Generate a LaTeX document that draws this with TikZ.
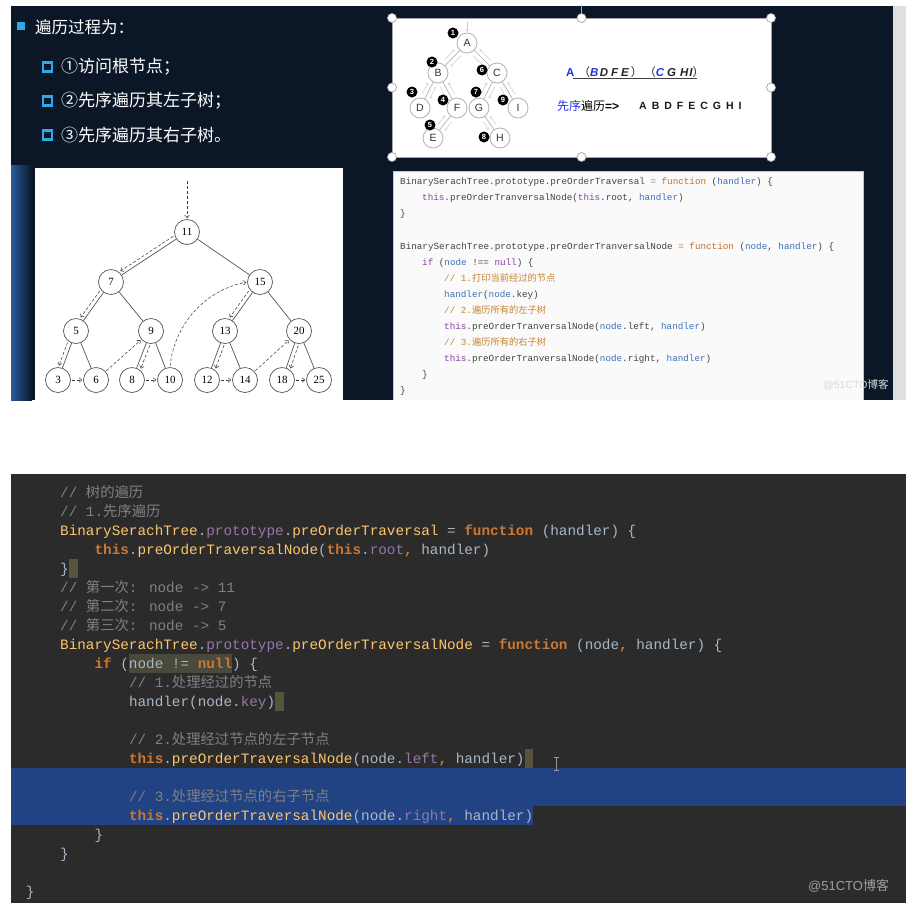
\documentclass[tikz,border=0pt]{standalone}
\usepackage{fontspec}
\setmainfont{Liberation Sans}
\newfontfamily\cjk{Noto Sans CJK SC}
\newfontfamily\monof{Liberation Mono}
\newfontfamily\serf{Liberation Serif}
\usetikzlibrary{arrows.meta,calc}
\pgfdeclarelayer{bg}
\pgfsetlayers{bg,main}
\definecolor{navy}{HTML}{0B1626}
\definecolor{glow}{HTML}{2F6DBF}
\definecolor{cyanb}{HTML}{2FA8E8}
\definecolor{darkbg}{HTML}{2B2B2B}
\definecolor{dDef}{HTML}{A9B7C6}
\definecolor{dKw}{HTML}{CC7832}
\definecolor{dFn}{HTML}{FFC66D}
\definecolor{dPu}{HTML}{9876AA}
\definecolor{dCom}{HTML}{808080}
\definecolor{dSel}{HTML}{214283}
\definecolor{dHl}{HTML}{4A4A3C}
\definecolor{dBr}{HTML}{56543A}
\definecolor{lDef}{HTML}{444444}
\definecolor{lKw}{HTML}{8A3FA0}
\definecolor{lOr}{HTML}{C0712B}
\definecolor{lBl}{HTML}{3D72B8}
\definecolor{lCom}{HTML}{C8842E}
\definecolor{tblue}{HTML}{2233DD}
\definecolor{edgec}{HTML}{555555}
\newcommand\DKw[1]{\textcolor{dKw}{\bfseries #1}}
\newcommand\DFn[1]{\textcolor{dFn}{#1}}
\newcommand\DPu[1]{\textcolor{dPu}{#1}}
\newcommand\LKw[1]{\textcolor{lKw}{#1}}
\newcommand\LOr[1]{\textcolor{lOr}{#1}}
\newcommand\LBl[1]{\textcolor{lBl}{#1}}
\newcommand\LCm[1]{\textcolor{lCom}{#1}}
\newcommand\smallEdge[4]{%
  \draw[sedge] (#1) -- (#2);
  \draw[sarr,transform canvas={shift={(#3,#4)}}] (#1) -- (#2);
  \draw[sarr,transform canvas={shift={({-(#3)},{-(#4)})}}] (#2) -- (#1);}
\begin{document}
\begin{tikzpicture}[x=1pt,y=-1pt,
  tn/.style={circle,draw=edgec,fill=white,minimum size=25pt,inner sep=0pt,line width=0.7pt,font=\serf\fontsize{11}{12}\selectfont},
  tedge/.style={draw=edgec,line width=0.7pt},
  darr/.style={densely dashed,draw=black!75,line width=0.55pt,-{Straight Barb[length=2.6pt,width=4.6pt]},shorten <=1pt,shorten >=1pt},
  sn/.style={circle,draw=gray!60,fill=white,minimum size=20pt,inner sep=0pt,line width=0.8pt,text=black!80,font=\fontsize{10.5}{12}\selectfont},
  mk/.style={circle,fill=black,text=white,minimum size=11pt,inner sep=0pt,font=\bfseries\fontsize{7.5}{8}\selectfont},
  sedge/.style={draw=gray!60,line width=0.7pt},
  sarr/.style={draw=gray!40,line width=0.5pt,-{Straight Barb[length=1.8pt,width=3.2pt]},shorten <=3pt,shorten >=3pt},
  hnd/.style={circle,draw=gray!70,fill=white,minimum size=9pt,inner sep=0pt,line width=0.7pt},
  tcode/.style={anchor=base west,inner sep=0pt,text=lDef,font=\monof\fontsize{9.27}{11}\selectfont},
  dcode/.style={anchor=base west,inner sep=0pt,text=dDef,font=\monof\fontsize{14.33}{17}\selectfont},
  ctext/.style={anchor=west,inner sep=0pt,text=white,font=\cjk\fontsize{16.5}{18}\selectfont},
  sq/.style={draw=cyanb,line width=2.2pt},
]
\useasboundingbox (0,0) rectangle (919,914);
\begin{pgfonlayer}{bg}
\fill[white] (0,0) rectangle (919,914);
\fill[darkbg] (11,474) rectangle (906,903);
\end{pgfonlayer}

% ---------- top panel ----------
\fill[navy] (11,6) rectangle (893,400);
\fill[gray!25] (893,6) rectangle (906,400);
\shade[left color=glow!80!navy, right color=navy] (11,165) rectangle (32,400);

\fill[cyanb] (17,22) rectangle (25,30);
\node[ctext] (title) at (35,27) {遍历过程为：};
\draw[sq] (43,62.5) rectangle (52,71.5);
\draw[sq] (43,96.5) rectangle (52,105.5);
\draw[sq] (43,130.5) rectangle (52,139.5);
\node[ctext,font=\cjk\fontsize{17}{19}\selectfont] (st1) at (61,67) {①访问根节点；};
\node[ctext,font=\cjk\fontsize{17}{19}\selectfont] (st2) at (61,101) {②先序遍历其左子树；};
\node[ctext,font=\cjk\fontsize{17}{19}\selectfont] (st3) at (61,135) {③先序遍历其右子树。};

% ---------- left tree figure ----------
\fill[white] (35,168) rectangle (343,400);
\begin{scope}
\clip (35,168) rectangle (343,400);
\draw[gray!70,double=white,double distance=1.2pt,line width=0.5pt] (39,172) rectangle (339,420);
\end{scope}
\node[tn] (n11) at (187,232) {11};
\node[tn] (n7) at (111,282) {7};
\node[tn] (n15) at (260,282) {15};
\node[tn] (n5) at (76,331) {5};
\node[tn] (n9) at (151,331) {9};
\node[tn] (n13) at (225,331) {13};
\node[tn] (n20) at (299,331) {20};
\node[tn] (n3) at (58,380) {3};
\node[tn] (n6) at (96,380) {6};
\node[tn] (n8) at (132,380) {8};
\node[tn] (n10) at (170,380) {10};
\node[tn] (n12) at (207,380) {12};
\node[tn] (n14) at (245,380) {14};
\node[tn] (n18) at (282,380) {18};
\node[tn] (n25) at (319,380) {25};
\foreach \a/\b in {n11/n7,n11/n15,n7/n5,n7/n9,n15/n13,n15/n20,n5/n3,n5/n6,n9/n8,n9/n10,n13/n12,n13/n14,n20/n18,n20/n25}
  \draw[tedge] (\a) -- (\b);
\coordinate (tin) at (187,180);
\draw[darr] (tin) -- (n11);
\draw[darr,transform canvas={shift={(-2.2,-3.3)}}] (n11) -- (n7);
\draw[darr,transform canvas={shift={(-3.3,-2.3)}}] (n7) -- (n5);
\draw[darr,transform canvas={shift={(-3.8,-1.4)}}] (n5) -- (n3);
\draw[darr] (n3) -- (n6);
\draw[darr] (n6) -- (n9);
\draw[darr,transform canvas={shift={(3.8,1.5)}}] (n9) -- (n8);
\draw[darr] (n8) -- (n10);
\draw[darr] (n10.north) .. controls (174,325) and (205,290) .. (n15.west);
\draw[darr,transform canvas={shift={(-3.3,-2.3)}}] (n15) -- (n13);
\draw[darr,transform canvas={shift={(3.8,1.4)}}] (n13) -- (n12);
\draw[darr] (n12) -- (n14);
\draw[darr] (n14) -- (n20);
\draw[darr,transform canvas={shift={(3.8,1.4)}}] (n20) -- (n18);
\draw[darr] (n18) -- (n25);

% ---------- top right picture box ----------
\fill[white] (392,18) rectangle (771,157);
\draw[gray!70,line width=0.8pt] (392,18) rectangle (771,157);
\coordinate (rot) at (581.5,5);
\node[hnd] (h1) at (392,18) {};
\node[hnd] (h2) at (581.5,18) {};
\node[hnd] (h3) at (771,18) {};
\node[hnd] (h4) at (392,87.5) {};
\node[hnd] (h5) at (771,87.5) {};
\node[hnd] (h6) at (392,157) {};
\node[hnd] (h7) at (581.5,157) {};
\node[hnd] (h8) at (771,157) {};
\draw[gray!70,line width=0.7pt] (h2) -- (rot);

\node[sn] (sA) at (467,43) {A};
\node[sn] (sB) at (438,73) {B};
\node[sn] (sC) at (497,73) {C};
\node[sn] (sD) at (420,108) {D};
\node[sn] (sF) at (457,108) {F};
\node[sn] (sG) at (479,108) {G};
\node[sn] (sI) at (518,108) {I};
\node[sn] (sE) at (433,138) {E};
\node[sn] (sH) at (500,138) {H};
\coordinate (sin) at (467,22);
\draw[sarr,shorten <=0pt,shorten >=1pt] (sin) -- (sA);
\smallEdge{sA}{sB}{3.2}{3.1}
\smallEdge{sA}{sC}{-3.2}{3.2}
\smallEdge{sB}{sD}{4}{2.1}
\smallEdge{sB}{sF}{-4}{2.1}
\smallEdge{sF}{sE}{3.5}{2.8}
\smallEdge{sC}{sG}{4}{2.1}
\smallEdge{sC}{sI}{-3.9}{2.3}
\smallEdge{sG}{sH}{-3.7}{2.6}
\node[mk] (m1) at (453,33) {1};
\node[mk] (m2) at (432,62) {2};
\node[mk] (m6) at (482,70) {6};
\node[mk] (m3) at (412,92) {3};
\node[mk] (m4) at (443,100) {4};
\node[mk] (m7) at (476,92) {7};
\node[mk] (m9) at (503,100) {9};
\node[mk] (m5) at (430,125) {5};
\node[mk] (m8) at (484,137) {8};

\node[anchor=west,inner sep=0pt,text=black!85,font=\bfseries\itshape\fontsize{11.5}{13}\selectfont] (seqA) at (566,72)
  {{\upshape\color{tblue}A}\hspace{4pt}{\mdseries\cjk （}{\color{tblue}B}\hspace{1.5pt}D\hspace{3pt}F\hspace{3pt}E\hspace{2pt}{\mdseries\cjk ）\hspace{2pt}（}{\color{tblue}C}\hspace{3pt}G\hspace{4pt}H\hspace{1pt}I{\mdseries\cjk ）}};
\coordinate (ulA) at (573,78.5);
\coordinate (ulB) at (697,78.5);
\draw[black!75,line width=0.7pt] (ulA) -- (ulB);
\node[anchor=west,inner sep=0pt,font=\fontsize{12}{13}\selectfont] (preL) at (557,106)
  {{\cjk\color{tblue}先序}{\cjk 遍历}\textbf{=>}};
\node[anchor=west,inner sep=0pt,text=black!90,font=\bfseries\fontsize{10.5}{12}\selectfont] (preS) at (639,106)
  {A\hspace{5pt}B\hspace{5pt}D\hspace{5pt}F\hspace{5pt}E\hspace{5pt}C\hspace{5pt}G\hspace{5pt}H\hspace{5pt}I};

% ---------- top right code box ----------
\fill[white!96!gray] (393,171) rectangle (863,400);
\draw[gray!45,line width=0.6pt] (393,400) -- (393,171) -- (863,171) -- (863,400);
\node[tcode] (t1) at (400,184.3) {BinarySerachTree.prototype.preOrderTraversal \LOr{=} \LOr{function} (\LBl{handler}) \{};
\node[tcode] (t2) at (422,200.3) {\LKw{this}.preOrderTranversalNode(\LKw{this}.root, \LBl{handler})};
\node[tcode] (t3) at (400,216.3) {\}};
\node[tcode] (t5) at (400,249.3) {BinarySerachTree.prototype.preOrderTranversalNode \LOr{=} \LOr{function} (\LBl{node}, \LBl{handler}) \{};
\node[tcode] (t6) at (422,265.3) {\LKw{if} (\LBl{node} !== \LKw{null}) \{};
\node[tcode] (t7) at (444,281.3) {\LCm{// 1.{\cjk 打印当前经过的节点}}};
\node[tcode] (t8) at (444,297.3) {\LBl{handler}(\LBl{node}.key)};
\node[tcode] (t9) at (444,313.3) {\LCm{// 2.{\cjk 遍历所有的左子树}}};
\node[tcode] (t10) at (444,329.3) {\LKw{this}.preOrderTranversalNode(\LBl{node}.left, \LBl{handler})};
\node[tcode] (t11) at (444,345.3) {\LCm{// 3.{\cjk 遍历所有的右子树}}};
\node[tcode] (t12) at (444,361.3) {\LKw{this}.preOrderTranversalNode(\LBl{node}.right, \LBl{handler})};
\node[tcode] (t13) at (422,377.3) {\}};
\node[tcode] (t14) at (400,393.3) {\}};
\node[anchor=west,inner sep=0pt,text=gray!30,font=\fontsize{10.5}{12}\selectfont] (wm1) at (823,385) {@51CTO{\cjk 博客}};

% ---------- bottom code panel ----------
\node[dcode,text=dCom] (b0) at (60,497) {// {\cjk 树的遍历}};
\node[dcode,text=dCom] (b1) at (60,516) {// 1.{\cjk 先序遍历}};
\node[dcode] (b2) at (60,535) {\DFn{BinarySerachTree}.\DPu{prototype}.\DFn{preOrderTraversal} = \DKw{function} (handler) \{};
\node[dcode] (b3) at (94.4,554) {\DKw{this}.\DFn{preOrderTraversalNode}(\DKw{this}.\DPu{root}\DKw{,} handler)};
\node[dcode] (b4) at (60,573) {\}};
\node[dcode,text=dCom] (b5) at (60,592) {// {\cjk 第一次}: node -> 11};
\node[dcode,text=dCom] (b6) at (60,611) {// {\cjk 第二次}: node -> 7};
\node[dcode,text=dCom] (b7) at (60,630) {// {\cjk 第三次}: node -> 5};
\node[dcode] (b8) at (60,649) {\DFn{BinarySerachTree}.\DPu{prototype}.\DFn{preOrderTraversalNode} = \DKw{function} (node\DKw{,} handler) \{};
\node[dcode] (b9) at (94.4,668) {\DKw{if} (node != \DKw{null}) \{};
\node[dcode,text=dCom] (b10) at (128.8,687) {// 1.{\cjk 处理经过的节点}};
\node[dcode] (b11) at (128.8,706) {handler(node.\DPu{key})};
\node[dcode,text=dCom] (b13) at (128.8,744) {// 2.{\cjk 处理经过节点的左子节点}};
\node[dcode] (b14) at (128.8,763) {\DKw{this}.\DFn{preOrderTraversalNode}(node.\DPu{left}\DKw{,} handler)};
\node[dcode,text=dCom] (b16) at (128.8,801) {// 3.{\cjk 处理经过节点的右子节点}};
\node[dcode] (b17) at (128.8,820) {\DKw{this}.\DFn{preOrderTraversalNode}(node.\DPu{right}\DKw{,} handler)};
\node[dcode] (b18) at (94.4,839) {\}};
\node[dcode] (b19) at (60,858) {\}};
\node[dcode] (b21) at (25.6,896) {\}};
\node[anchor=west,inner sep=0pt,text=gray!75,font=\fontsize{13}{14}\selectfont] (wm2) at (808,886) {@51CTO{\cjk 博客}};
\coordinate (selY) at (0,824.5);
\begin{pgfonlayer}{bg}
\fill[dBr] ($(b4.base east)+(0,4.5)$) rectangle ++(8.6,-19);
\fill[dHl] (128.8,672.5) rectangle (232,653.5);
\fill[dBr] ($(b11.base east)+(0,4.5)$) rectangle ++(8.6,-19);
\fill[dBr] ($(b14.base east)+(0,4.5)$) rectangle ++(8.6,-19);
\fill[dSel] (11,767.5) rectangle (906,805.5);
\fill[dSel] (11,805.5) rectangle (b17.east |- selY);
\end{pgfonlayer}
\draw[gray!80,line width=0.8pt] (556,757) -- (556,770) (553.5,757) -- (558.5,757) (553.5,770) -- (558.5,770);
\end{tikzpicture}
\end{document}
